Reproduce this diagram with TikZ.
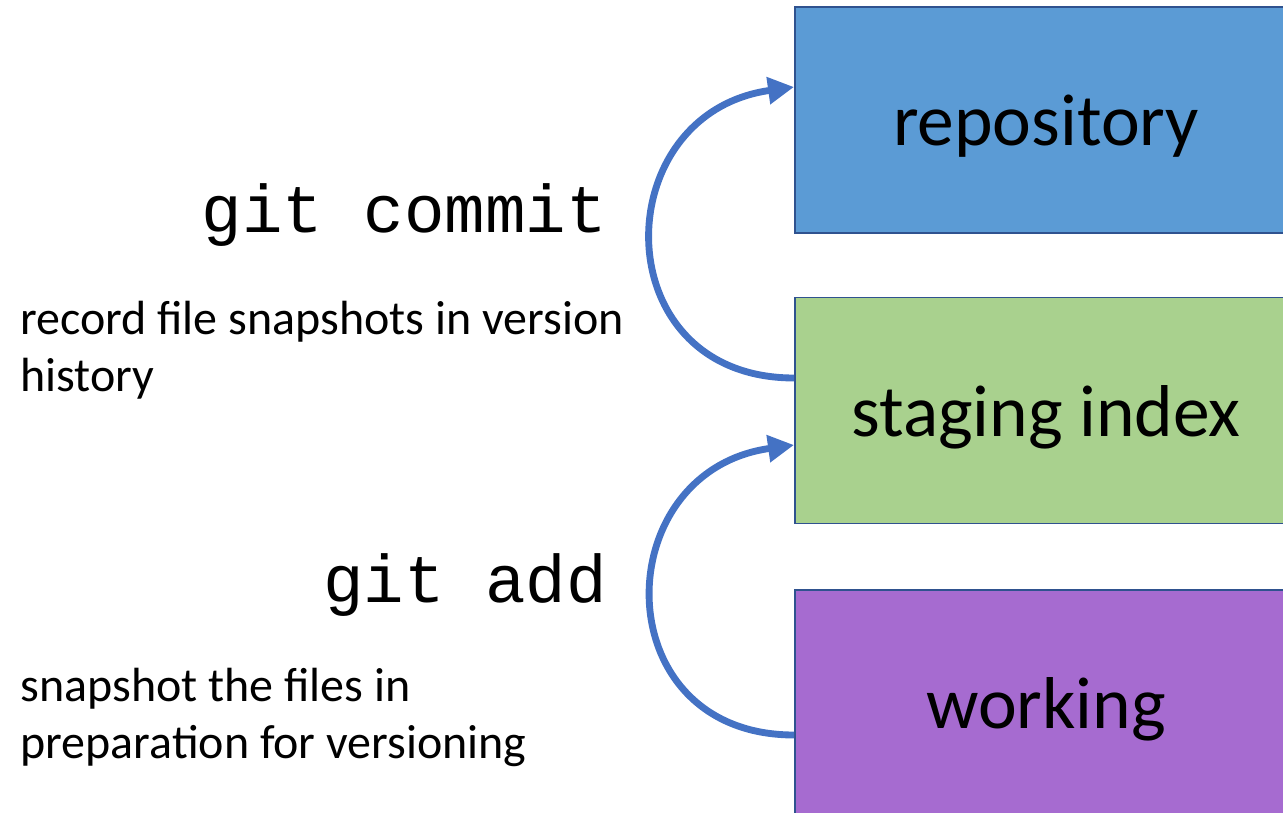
\documentclass[tikz,border=0pt]{standalone}
\usepackage{fontspec}
\setmainfont{Carlito}
\setmonofont{Liberation Mono}
\usetikzlibrary{arrows.meta}
\definecolor{repoblue}{HTML}{5B9BD5}
\definecolor{stagegreen}{HTML}{A9D18E}
\definecolor{workpurple}{HTML}{A66BD0}
\definecolor{edgeblue}{HTML}{2F528F}
\definecolor{arrowblue}{HTML}{4472C4}

\begin{document}
\begin{tikzpicture}[
  area/.style={draw=edgeblue, line width=1.1pt, minimum width=10.04cm, minimum height=4.52cm,
    inner sep=0pt, text depth=0pt, font=\fontsize{41.8}{50}\selectfont},
  cmd/.style={anchor=base east, inner sep=0pt, font=\ttfamily\fontsize{38.4}{46}\selectfont},
  note/.style={anchor=base west, inner sep=0pt, align=left, font=\fontsize{27.3}{32.4}\selectfont},
  move/.style={arrowblue, line width=3.9pt, -{Triangle[length=0.52cm,width=0.52cm]}}]
\useasboundingbox (0,0) rectangle (25.66,16.24);

\node[area, fill=repoblue]   (repo)  at (20.92,13.84) {repository};
\node[area, fill=stagegreen] (stage) at (20.92,8.03)  {staging index};
\node[area, fill=workpurple] (work)  at (20.92,2.18)  {working};

\node[cmd]  (commit)  at (12.14,11.58) {git commit};
\node[note] (commitn) at (0.4,8.42) {record file snapshots in version\\history};
\node[cmd]  (add)     at (12.14,4.20)  {git add};
\node[note] (addn)    at (0.4,1.08) {snapshot the files in\\preparation for versioning};

\draw[move] ([yshift=0.65cm]stage.west) to[out=180, in=188, looseness=1.68] ([yshift=0.66cm]repo.west);
\draw[move] ([yshift=-0.64cm]work.west) to[out=180, in=188, looseness=1.68] ([yshift=-0.69cm]stage.west);
\end{tikzpicture}
\end{document}
